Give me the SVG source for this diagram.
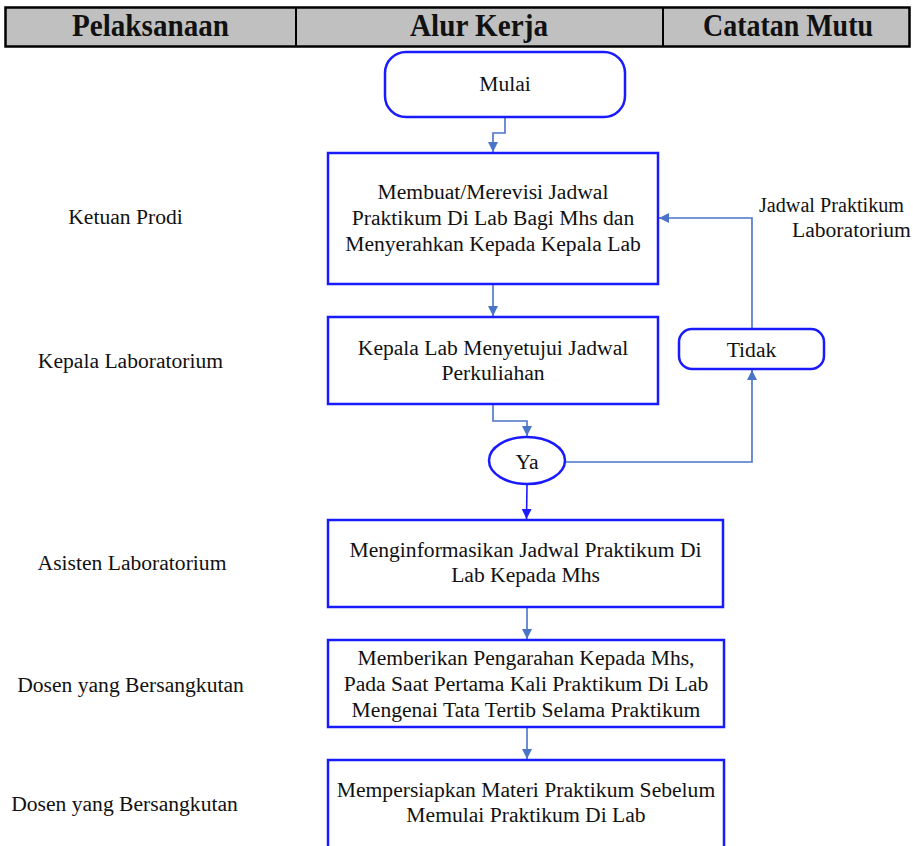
<svg xmlns="http://www.w3.org/2000/svg" width="913" height="846" viewBox="0 0 913 846">
<defs>
<style>
.hd{font-family:"Liberation Serif","Times New Roman",serif;font-weight:bold;font-size:31px;fill:#111;text-anchor:middle}
.t{font-family:"Liberation Serif","Times New Roman",serif;font-size:21.6px;fill:#111;text-anchor:middle}
.ts{font-family:"Liberation Serif","Times New Roman",serif;font-size:21.6px;fill:#111}
.box{fill:#fff;stroke:#1a1aff;stroke-width:2.5}
.c{fill:none;stroke:#4a74c8;stroke-width:1.6}
.cb{fill:none;stroke:#1a1aff;stroke-width:1.6}
</style>
<marker id="a" viewBox="0 0 10 10" refX="10" refY="5" markerWidth="10" markerHeight="10" markerUnits="userSpaceOnUse" orient="auto"><path d="M0,0 L10,5 L0,10 z" fill="#4a74c8"/></marker>
<marker id="ab" viewBox="0 0 10 10" refX="10" refY="5" markerWidth="10" markerHeight="10" markerUnits="userSpaceOnUse" orient="auto"><path d="M0,0 L10,5 L0,10 z" fill="#1a1aff"/></marker>
</defs>
<rect width="913" height="846" fill="#fff"/>
<g id="header">
<rect x="5.5" y="7.5" width="904" height="39" fill="#c0c0c0" stroke="#000" stroke-width="2.5"/>
<line x1="296" y1="7.5" x2="296" y2="46.5" stroke="#000" stroke-width="2"/>
<line x1="663" y1="7.5" x2="663" y2="46.5" stroke="#000" stroke-width="2"/>
<text class="hd" x="150.5" y="36" textLength="157" lengthAdjust="spacingAndGlyphs">Pelaksanaan</text>
<text class="hd" x="479" y="36" textLength="138" lengthAdjust="spacingAndGlyphs">Alur Kerja</text>
<text class="hd" x="788" y="36" textLength="170" lengthAdjust="spacingAndGlyphs">Catatan Mutu</text>
</g>
<g id="lanes">
<text class="t" x="125.5" y="224">Ketuan Prodi</text>
<text class="t" x="130.5" y="368">Kepala Laboratorium</text>
<text class="t" x="132" y="570">Asisten Laboratorium</text>
<text class="t" x="130.5" y="692">Dosen yang Bersangkutan</text>
<text class="t" x="124.5" y="811">Dosen yang Bersangkutan</text>
</g>
<g id="connectors">
<path class="c" d="M505,117 V133 H493 V152" marker-end="url(#a)"/>
<path class="c" d="M493,284 V316" marker-end="url(#a)"/>
<path class="c" d="M493,404 V421 H527 V436" marker-end="url(#a)"/>
<path class="cb" d="M527,484 L526.5,519" marker-end="url(#ab)"/>
<path class="c" d="M565,462 H752 V370" marker-end="url(#a)"/>
<path class="c" d="M752,329 V218 H659" marker-end="url(#a)"/>
<path class="c" d="M527,607 V639" marker-end="url(#a)"/>
<path class="c" d="M527,727 V759" marker-end="url(#a)"/>
</g>
<g id="mulai">
<rect class="box" x="385" y="52" width="240" height="65" rx="21"/>
<text class="t" x="505" y="91">Mulai</text>
</g>
<g id="buat-jadwal">
<rect class="box" x="328" y="153" width="330" height="131"/>
<text class="t" x="493" y="199">Membuat/Merevisi Jadwal</text>
<text class="t" x="493" y="225">Praktikum Di Lab Bagi Mhs dan</text>
<text class="t" x="493" y="251">Menyerahkan Kepada Kepala Lab</text>
</g>
<g id="setujui">
<rect class="box" x="328" y="317" width="330" height="87"/>
<text class="t" x="493" y="355">Kepala Lab Menyetujui Jadwal</text>
<text class="t" x="493" y="380">Perkuliahan</text>
</g>
<g id="ya">
<ellipse class="box" cx="527" cy="460.5" rx="38" ry="23.5"/>
<text class="t" x="527" y="469">Ya</text>
</g>
<g id="tidak">
<rect class="box" x="679" y="329" width="145" height="40" rx="13"/>
<text class="t" x="751.5" y="357">Tidak</text>
</g>
<g id="catatan">
<text class="ts" x="759" y="212" textLength="145" lengthAdjust="spacingAndGlyphs">Jadwal Praktikum</text>
<text class="ts" x="792" y="237">Laboratorium</text>
</g>
<g id="informasikan">
<rect class="box" x="328" y="520" width="395" height="87"/>
<text class="t" x="525.5" y="557">Menginformasikan Jadwal Praktikum Di</text>
<text class="t" x="525.5" y="582">Lab Kepada Mhs</text>
</g>
<g id="pengarahan">
<rect class="box" x="328" y="640" width="396" height="87"/>
<text class="t" x="526" y="665">Memberikan Pengarahan Kepada Mhs,</text>
<text class="t" x="526" y="691">Pada Saat Pertama Kali Praktikum Di Lab</text>
<text class="t" x="526" y="717">Mengenai Tata Tertib Selama Praktikum</text>
</g>
<g id="persiapan">
<rect class="box" x="328" y="760" width="396" height="100"/>
<text class="t" x="526" y="797">Mempersiapkan Materi Praktikum Sebelum</text>
<text class="t" x="526" y="822">Memulai Praktikum Di Lab</text>
</g>
</svg>
